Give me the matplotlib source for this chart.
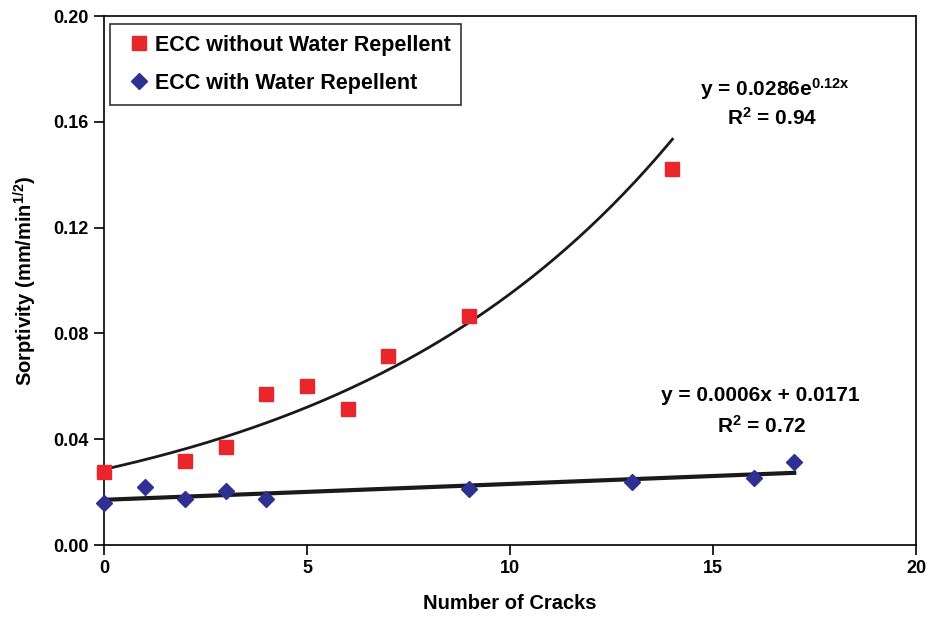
import numpy as np
import matplotlib
matplotlib.use("Agg")
from matplotlib import pyplot as plt

plt.rcParams['font.family'] = ['Liberation Sans', 'DejaVu Sans']
plt.rcParams['font.weight'] = 'bold'
plt.rcParams['mathtext.fontset'] = 'custom'
plt.rcParams['mathtext.rm'] = 'Liberation Sans:bold'
plt.rcParams['mathtext.bf'] = 'Liberation Sans:bold'
plt.rcParams['mathtext.it'] = 'Liberation Sans:bold'

# ECC without water repellent
x_without = [0, 2, 3, 4, 5, 6, 7, 9, 14]
s_without = [0.0276, 0.0318, 0.0370, 0.0570, 0.0600, 0.0514, 0.0715, 0.0866, 0.1420]

# ECC with water repellent
x_with = [0, 1, 2, 3, 4, 9, 13, 16, 17]
s_with = [0.0159, 0.0219, 0.0174, 0.0204, 0.0174, 0.0212, 0.0238, 0.0253, 0.0314]

# trendline coefficients as printed on the chart
exp_a, exp_b = 0.0286, 0.12
lin_m, lin_c = 0.0006, 0.0171

fig = plt.figure(figsize=(9.3, 6.19), dpi=100)
ax = fig.add_axes([0.1118, 0.1195, 0.8732, 0.8545])

ax.plot(x_without, s_without, 's', color='#e8262b', markersize=10,
        label='ECC without Water Repellent', zorder=3, clip_on=False)
ax.plot(x_with, s_with, 'D', color='#2e3192', markersize=8,
        label='ECC with Water Repellent', zorder=3, clip_on=False)

xe = np.linspace(0, max(x_without), 200)
ax.plot(xe, exp_a * np.exp(exp_b * xe), color='#1a1a1a', lw=2, zorder=2)
xl = np.array([0, max(x_with)])
ax.plot(xl, lin_m * xl + lin_c, color='#1a1a1a', lw=3, zorder=2)

fs = 15
ax.text(16.53, 0.1698, 'y = 0.0286e$^{0.12x}$', ha='center', va='baseline', fontsize=fs, fontweight='bold')
ax.text(16.45, 0.1590, 'R$^{2}$ = 0.94', ha='center', va='baseline', fontsize=fs, fontweight='bold')
ax.text(16.16, 0.0544, 'y = 0.0006x + 0.0171', ha='center', va='baseline', fontsize=fs, fontweight='bold')
ax.text(16.2, 0.0425, 'R$^{2}$ = 0.72', ha='center', va='baseline', fontsize=fs, fontweight='bold')

ax.set_xlim(0, 20)
ax.set_ylim(0, 0.20)
ax.set_xticks([0, 5, 10, 15, 20])
ax.set_yticks([0.00, 0.04, 0.08, 0.12, 0.16, 0.20])
ax.set_yticklabels(['0.00', '0.04', '0.08', '0.12', '0.16', '0.20'])
ax.tick_params(direction='out', length=7, width=1.2, labelsize=13, pad=4)
for lab in ax.get_xticklabels() + ax.get_yticklabels():
    lab.set_fontweight('bold')
for sp in ax.spines.values():
    sp.set_linewidth(1.2)

ax.set_xlabel('Number of Cracks', fontsize=14.5, fontweight='bold', labelpad=12)
ax.set_ylabel('Sorptivity (mm/min$^{1/2}$)', fontsize=14.5, fontweight='bold', labelpad=10)

leg = ax.legend(loc='upper left', bbox_to_anchor=(0.0074, 0.985), borderaxespad=0,
                frameon=True, fancybox=False, edgecolor='black', handlelength=1.7,
                handletextpad=-0.12, borderpad=0.5, labelspacing=0.8,
                prop={'weight': 'bold', 'size': 15.5})
leg.get_frame().set_linewidth(1.2)

fig.savefig('out.png', dpi=100)
